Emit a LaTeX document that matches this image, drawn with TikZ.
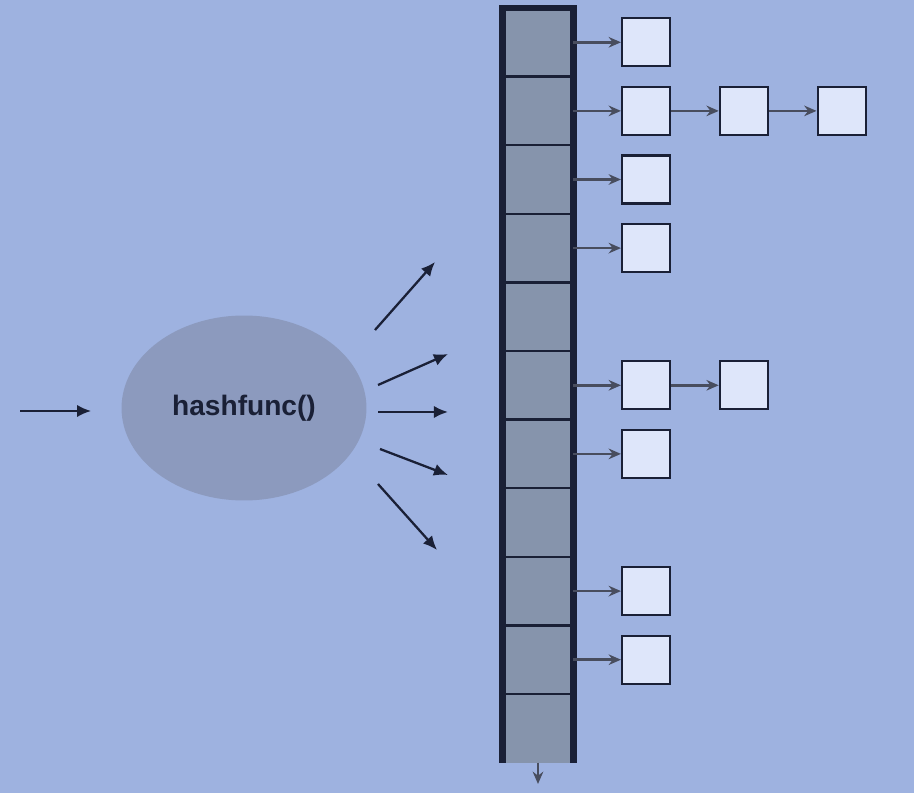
\documentclass[tikz,border=0pt]{standalone}
\usepackage{fontspec}
\setmainfont{Liberation Sans}
\usetikzlibrary{arrows.meta,positioning,shapes.geometric}
\definecolor{slidebg}{RGB}{158,178,224}
\definecolor{cellgray}{RGB}{134,148,172}
\definecolor{hashgray}{RGB}{140,154,190}
\definecolor{itemfill}{RGB}{222,230,250}
\definecolor{inkdark}{RGB}{26,32,54}

\begin{document}
\begin{tikzpicture}[
  x=0.02cm, y=-0.02cm,
  node distance=0.95cm,
  cell/.style={fill=cellgray, minimum width=1.42cm, minimum height=1.372cm, inner sep=0pt, outer sep=0pt},
  item/.style={draw=inkdark, line width=1.3pt, fill=itemfill, minimum size=0.96cm, inner sep=0pt},
  arr/.style={-{Latex[length=8pt,width=7pt]}, line width=1.3pt, draw=inkdark},
  link/.style={-{Stealth[length=7pt,width=6pt]}, line width=1.4pt, draw=inkdark!80}
]
\fill[slidebg] (0,0) rectangle (914,793);

% hash function
\node[ellipse, fill=hashgray, minimum width=4.9cm, minimum height=3.7cm, text=inkdark,
  font=\fontsize{16}{19}\selectfont\bfseries] (hash) at (244,408) {hashfunc()};
\coordinate (src) at (20,411);
\draw[arr, shorten >=0.6cm] (src) -- (src -| hash.west);
\foreach \sx/\sy/\ex/\ey [count=\k] in {375/330/435/262, 378/385/448/354, 378/412/448/412, 380/449/448/475, 378/484/437/550}{
  \coordinate (from\k) at (\sx,\sy);
  \coordinate (to\k) at (\ex,\ey);
  \draw[arr] (from\k) -- (to\k);
}

% bucket table
\foreach \i in {1,...,11}
  \node[cell] (c\i) at (538,{8+68.6*(\i-0.5)}) {};
\foreach \i in {1,...,10}
  \draw[line width=1.3pt, draw=inkdark] (c\i.south west) -- (c\i.south east);
\draw[line width=3.8pt, draw=inkdark] (c11.south west) -- (c1.north west) -- (c1.north east) -- (c11.south east);
\coordinate (tail) at (538,784);
\draw[link] (c11.south) -- (tail);

% chained entries
\node[item, right=of c1] (e1) {};
\node[item, right=of c2] (e2a) {};
\node[item, right=of e2a] (e2b) {};
\node[item, right=of e2b] (e2c) {};
\node[item, right=of c3] (e3) {};
\node[item, right=of c4] (e4) {};
\node[item, right=of c6] (e6a) {};
\node[item, right=of e6a] (e6b) {};
\node[item, right=of c7] (e7) {};
\node[item, right=of c9] (e9) {};
\node[item, right=of c10] (e10) {};
\draw[link] (c1) -- (e1);
\draw[link] (c2) -- (e2a);
\draw[link] (e2a) -- (e2b);
\draw[link] (e2b) -- (e2c);
\draw[link] (c3) -- (e3);
\draw[link] (c4) -- (e4);
\draw[link] (c6) -- (e6a);
\draw[link] (e6a) -- (e6b);
\draw[link] (c7) -- (e7);
\draw[link] (c9) -- (e9);
\draw[link] (c10) -- (e10);
\end{tikzpicture}
\end{document}
